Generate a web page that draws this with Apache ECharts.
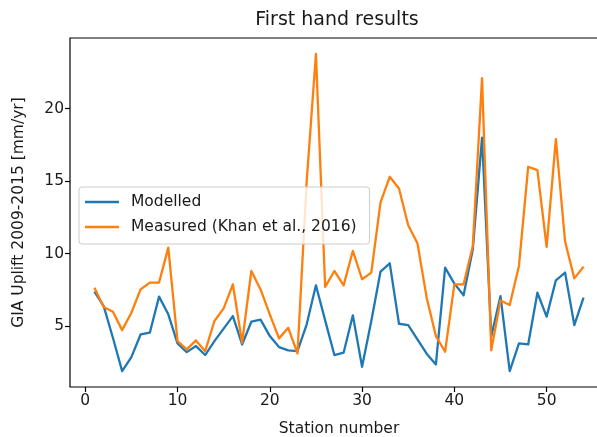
<!DOCTYPE html>
<html>
<head>
<meta charset="utf-8">
<script src="https://cdn.jsdelivr.net/npm/echarts@6/dist/echarts.min.js"></script>
<style>
  html, body { margin: 0; padding: 0; background: #ffffff; overflow: hidden; }
  /* The axes box runs slightly past the right edge of the window */
  #chart { width: 608px; height: 437px; }
</style>
</head>
<body>
<div id="chart"></div>
<script>
// Station numbers along the x axis
const stations = [
  1, 2, 3, 4, 5, 6, 7, 8, 9, 10,
  11, 12, 13, 14, 15, 16, 17, 18, 19, 20,
  21, 22, 23, 24, 25, 26, 27, 28, 29, 30,
  31, 32, 33, 34, 35, 36, 37, 38, 39, 40,
  41, 42, 43, 44, 45, 46, 47, 48, 49, 50,
  51, 52, 53, 54
];

// Modelled GIA uplift rates [mm/yr]
const modelled = [
  7.37, 6.38, 4.19, 1.89, 2.86, 4.42, 4.54, 7.03, 5.81, 3.80,
  3.20, 3.62, 3.00, 3.96, 4.82, 5.69, 3.73, 5.30, 5.44, 4.31,
  3.55, 3.32, 3.27, 5.12, 7.81, 5.39, 3.00, 3.16, 5.74, 2.19,
  5.35, 8.76, 9.33, 5.16, 5.07, 4.08, 3.09, 2.35, 9.03, 7.93,
  7.12, 10.30, 18.00, 4.30, 7.07, 1.89, 3.80, 3.73, 7.30, 5.65,
  8.16, 8.69, 5.07, 6.96
];

// Measured uplift rates (Khan et al., 2016) [mm/yr]
const measured = [
  7.65, 6.31, 5.99, 4.72, 5.92, 7.53, 8.00, 8.00, 10.41, 3.96,
  3.39, 4.01, 3.27, 5.35, 6.22, 7.88, 3.85, 8.80, 7.53, 5.80,
  4.15, 4.88, 3.11, 15.00, 23.78, 7.70, 8.80, 7.81, 10.18, 8.23,
  8.69, 13.53, 15.30, 14.49, 11.96, 10.71, 6.96, 4.31, 3.23, 7.88,
  7.88, 10.53, 22.10, 3.32, 6.77, 6.45, 9.15, 15.99, 15.76, 10.46,
  17.90, 10.83, 8.29, 9.10
];

const xTicks = [0, 10, 20, 30, 40, 50];
const yTicks = [5, 10, 15, 20];

const seriesNames = ['Modelled', 'Measured (Khan et al., 2016)'];
const colors = ['#1f77b4', '#ff7f0e'];

// Axis limits padded by 5% of the data span on each side
function paddedRange(values) {
  const lo = Math.min(...values), hi = Math.max(...values);
  const pad = (hi - lo) * 0.05;
  return [lo - pad, hi + pad];
}
const [xMin, xMax] = paddedRange(stations);
const [yMin, yMax] = paddedRange(modelled.concat(measured));

const FONT = 'DejaVu Sans';
const TXT = '#1a1a1a';

const chart = echarts.init(document.getElementById('chart'), null, { renderer: 'canvas' });

chart.setOption({
  backgroundColor: '#ffffff',
  animation: false,
  grid: {
    left: 70,
    right: 0,
    top: 38,
    bottom: 50,
    outerBoundsMode: 'none',
    containLabel: false,
    show: true,
    borderColor: '#000000',
    borderWidth: 1.2,
    backgroundColor: 'transparent'
  },
  graphic: [{
    type: 'text',
    x: 337,
    y: 20,
    style: {
      text: 'First hand results',
      font: '19px "DejaVu Sans"',
      fill: TXT,
      textAlign: 'center',
      textVerticalAlign: 'middle'
    }
  }],
  legend: {
    orient: 'vertical',
    left: 79,
    top: 187,
    data: seriesNames,
    icon: 'rect',
    itemWidth: 34,
    itemHeight: 2.5,
    itemGap: 7,
    padding: [6, 13, 8, 6],
    backgroundColor: 'rgba(255,255,255,0.8)',
    borderColor: '#cccccc',
    borderWidth: 1,
    borderRadius: 3,
    textStyle: {
      fontFamily: FONT,
      fontSize: 15.5,
      lineHeight: 18,
      color: TXT,
      padding: [0, 0, 0, 7]
    }
  },
  xAxis: {
    type: 'value',
    min: xMin,
    max: xMax,
    name: 'Station number',
    nameLocation: 'middle',
    nameGap: 34,
    nameTextStyle: { fontFamily: FONT, fontSize: 15.5, color: TXT },
    axisLine: { show: false, onZero: false },
    splitLine: { show: false },
    axisTick: {
      show: true,
      inside: false,
      length: 5,
      lineStyle: { color: '#000000', width: 1.2 },
      customValues: xTicks
    },
    axisLabel: {
      fontFamily: FONT,
      fontSize: 15.5,
      color: TXT,
      margin: 6,
      customValues: xTicks
    }
  },
  yAxis: {
    type: 'value',
    min: yMin,
    max: yMax,
    name: 'GIA Uplift 2009-2015 [mm/yr]',
    nameLocation: 'middle',
    nameGap: 43,
    nameTextStyle: { fontFamily: FONT, fontSize: 15.5, color: TXT },
    axisLine: { show: false, onZero: false },
    splitLine: { show: false },
    axisTick: {
      show: true,
      inside: false,
      length: 5,
      lineStyle: { color: '#000000', width: 1.2 },
      customValues: yTicks
    },
    axisLabel: {
      fontFamily: FONT,
      fontSize: 15.5,
      color: TXT,
      margin: 6,
      customValues: yTicks
    }
  },
  series: [
    {
      name: seriesNames[0],
      type: 'line',
      data: stations.map((s, i) => [s, modelled[i]]),
      symbol: 'none',
      color: colors[0],
      lineStyle: { color: colors[0], width: 2.3, join: 'round' },
      clip: true
    },
    {
      name: seriesNames[1],
      type: 'line',
      data: stations.map((s, i) => [s, measured[i]]),
      symbol: 'none',
      color: colors[1],
      lineStyle: { color: colors[1], width: 2.3, join: 'round' },
      clip: true
    }
  ]
});
</script>
</body>
</html>
